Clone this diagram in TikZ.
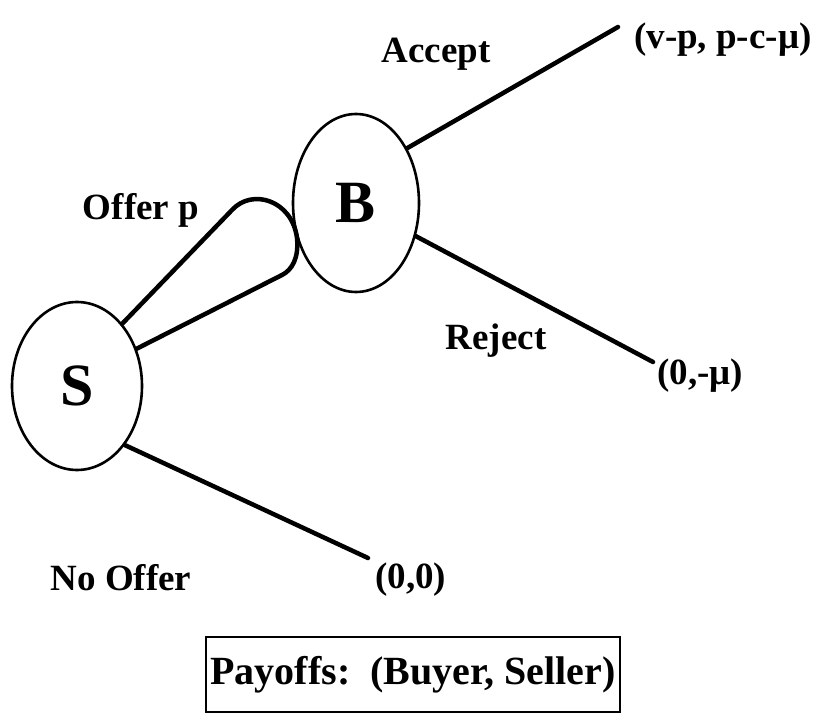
\documentclass[tikz,border=0pt]{standalone}
\usepackage{fontspec}
\setmainfont{Liberation Serif}
\usetikzlibrary{shapes.geometric}
\begin{document}
\begin{tikzpicture}[x=1pt,y=-1pt,
  player/.style={draw,ellipse,line width=2.6pt,inner sep=0pt,font=\fontsize{60}{60}\selectfont\bfseries},
  branch/.style={line width=4.5pt,line cap=round},
  lbl/.style={font=\fontsize{37}{40}\selectfont\bfseries,inner sep=0pt},
  boxlbl/.style={draw,line width=2pt,font=\fontsize{40}{44}\selectfont\bfseries,minimum width=414pt,minimum height=75pt,inner sep=0pt}]
\useasboundingbox (0,0) rectangle (819,714);
\node[player,minimum width=130pt,minimum height=168pt] (S) at (77,386) {S};
\node[player,minimum width=126pt,minimum height=178pt] (B) at (356,203) {B};
\coordinate (acc) at (618,27);
\coordinate (rej) at (653,362);
\coordinate (noo) at (368,558);
\draw[branch] (B.47) -- (acc);
\draw[branch] (B.-29) -- (rej);
\draw[branch] (S.-51) -- (noo);
\draw[branch,line join=round] (S.54) -- (232,210) .. controls (252,188) and (292,200) .. (297,238)
  .. controls (299,258) and (292,270) .. (282,275) -- (S.32);
\node[lbl] (tacc) at (436,54) {Accept};
\node[lbl] (toff) at (141,210) {Offer p};
\node[lbl] (trej) at (496,341) {Reject};
\node[lbl] (tnoo) at (121,578) {No Offer};
\node[lbl,anchor=west] (pacc) at (634,40) {(v-p, p-c-μ)};
\node[lbl,anchor=west] (prej) at (657,376) {(0,-μ)};
\node[lbl,anchor=west] (pnoo) at (375,580) {(0,0)};
\node[boxlbl] (pay) at (413,674.5) {Payoffs:\ \ (Buyer, Seller)};
\end{tikzpicture}
\end{document}
